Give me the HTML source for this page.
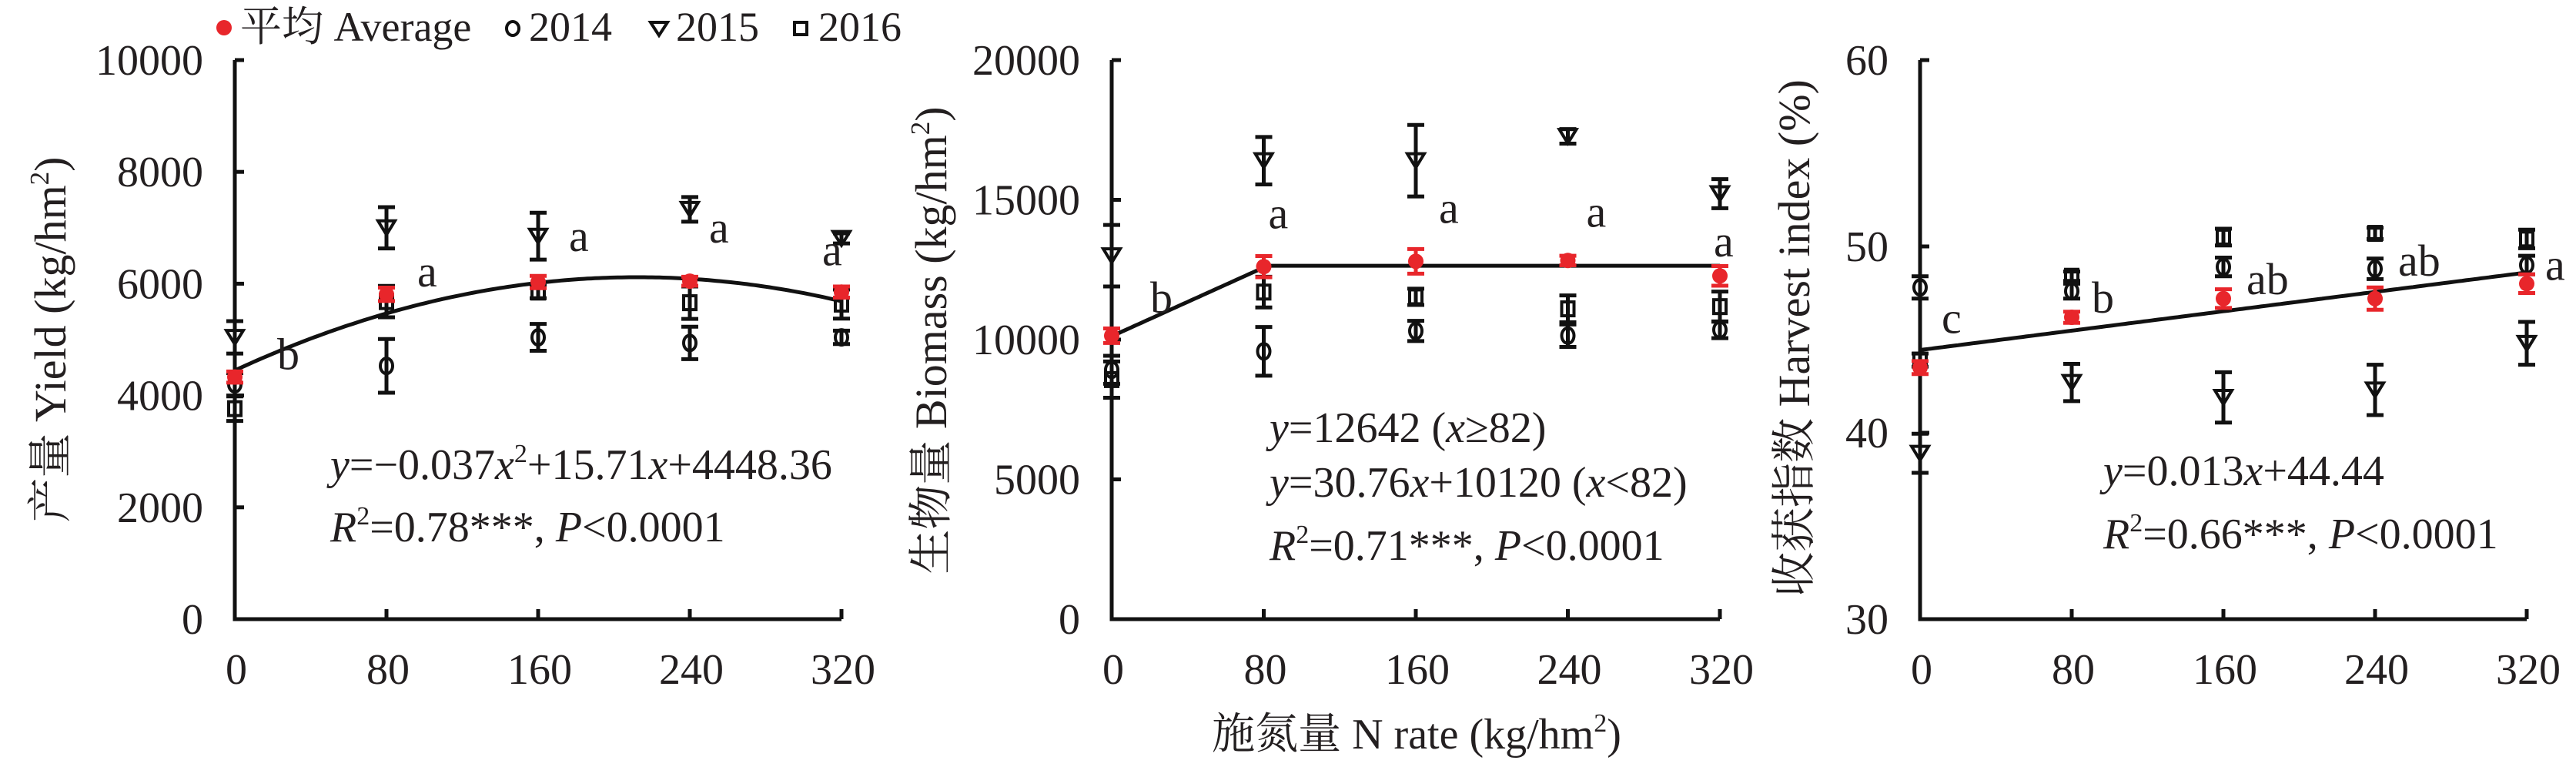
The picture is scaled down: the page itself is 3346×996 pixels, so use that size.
<!DOCTYPE html>
<html><head><meta charset="utf-8"><style>
html,body{margin:0;padding:0;background:#fff;}
svg text{font-family:"Liberation Serif","Noto Serif CJK SC",serif;fill:#231f20;}
</style></head><body>
<svg id="fig" xmlns="http://www.w3.org/2000/svg" width="3346" height="991" viewBox="0 0 3346 991">
<g id="legend">
 <g><circle cx="291" cy="36" r="10" fill="#e8262b"/><text x="312" y="53" font-size="54">平均 Average</text></g>
 <g><ellipse cx="666" cy="37" rx="8" ry="9" fill="none" stroke="#111" stroke-width="4"/><text x="687" y="53" font-size="54">2014</text></g>
 <g><path d="M845,29 L867,29 L856,46 Z" fill="none" stroke="#111" stroke-width="4"/><text x="878" y="53" font-size="54">2015</text></g>
 <g><rect x="1032" y="29" width="16" height="16" fill="none" stroke="#111" stroke-width="4"/><text x="1063" y="53" font-size="54">2016</text></g>
</g>
<text x="1840" y="972" font-size="56" text-anchor="middle">施氮量 N rate (kg/hm<tspan font-size="34" dy="-22">2</tspan><tspan dy="22">)</tspan></text>
</svg>
<script>
const xCats = [0, 80, 160, 240, 320];
// Yield
const yieldAvg = [4330, 5810, 6030, 6045, 5850];
const yieldAvgErr = [100, 120, 110, 80, 100];
const yield2014 = [4200, 4530, 5040, 4940, 5040];
const yield2014Err = [200, 480, 240, 290, 120];
const yield2015 = [5040, 7000, 6850, 7330, 6810];
const yield2015Err = [290, 370, 420, 220, 90];
const yield2016 = [3765, 5680, 5850, 5660, 5635];
const yield2016Err = [220, 280, 110, 290, 260];
const yieldTicks = [0, 2000, 4000, 6000, 8000, 10000];
const yieldLetters = ["b", "a", "a", "a", "a"];
// Biomass
const bioAvg = [10140, 12610, 12800, 12830, 12280];
const bioAvgErr = [260, 380, 440, 170, 350];
const bio2014 = [8920, 9580, 10310, 10140, 10350];
const bio2014Err = [500, 870, 360, 400, 300];
const bio2015 = [13000, 16400, 16400, 17270, 15220];
const bio2015Err = [1100, 850, 1280, 260, 520];
const bio2016 = [8570, 11700, 11530, 11100, 11180];
const bio2016Err = [650, 550, 290, 480, 540];
const bioTicks = [0, 5000, 10000, 15000, 20000];
const bioLetters = ["b", "a", "a", "a", "a"];
// Harvest index
const hiAvg = [43.5, 46.2, 47.2, 47.2, 48.0];
const hiAvgErr = [0.35, 0.3, 0.5, 0.6, 0.5];
const hi2014 = [47.8, 47.6, 48.9, 48.8, 49.0];
const hi2014Err = [0.6, 0.4, 0.5, 0.55, 0.5];
const hi2015 = [38.9, 42.7, 41.9, 42.3, 44.8];
const hi2015Err = [1.05, 1.0, 1.35, 1.35, 1.15];
const hi2016 = [43.9, 48.4, 50.5, 50.7, 50.4];
const hi2016Err = [0.35, 0.25, 0.45, 0.3, 0.5];
const hiTicks = [30, 40, 50, 60];
const hiLetters = ["c", "b", "ab", "ab", "a"];

const NS = "http://www.w3.org/2000/svg";
const svg = document.getElementById('fig');
function mk(tag, attrs, parent) {
  const e = document.createElementNS(NS, tag);
  for (const k in attrs) e.setAttribute(k, attrs[k]);
  (parent || svg).appendChild(e);
  return e;
}
const panels = [
  {name:'yield', x0:305, x1:1093, yTop:78, yBot:804, ymin:0, ymax:10000, ticks:yieldTicks, labelRight:264,
   avg:yieldAvg, avgE:yieldAvgErr, s14:yield2014, e14:yield2014Err, s15:yield2015, e15:yield2015Err, s16:yield2016, e16:yield2016Err,
   letters:yieldLetters, letterOff:[[55,-10],[40,-10],[40,-40],[25,-50],[-25,-35]],
   fit:x=>-0.037*x*x+15.71*x+4448.36,
   title:'产量 Yield (kg/hm', titleX:65, titleY:441,
   eq:[['<tspan font-style="italic">y</tspan>=−0.037<tspan font-style="italic">x</tspan><tspan font-size="34" dy="-22">2</tspan><tspan dy="22">+15.71</tspan><tspan font-style="italic">x</tspan>+4448.36',429,622],
       ['<tspan font-style="italic">R</tspan><tspan font-size="34" dy="-22">2</tspan><tspan dy="22">=0.78***, </tspan><tspan font-style="italic">P</tspan>&lt;0.0001',429,703]]},
  {name:'biomass', x0:1444, x1:2234, yTop:78, yBot:804, ymin:0, ymax:20000, ticks:bioTicks, labelRight:1403,
   avg:bioAvg, avgE:bioAvgErr, s14:bio2014, e14:bio2014Err, s15:bio2015, e15:bio2015Err, s16:bio2016, e16:bio2016Err,
   letters:bioLetters, letterOff:[[50,-30],[6,-50],[30,-50],[24,-44],[-8,-25]],
   fit:x=>x<82?30.76*x+10120:12642,
   title:'生物量 Biomass (kg/hm', titleX:1209, titleY:442,
   eq:[['<tspan font-style="italic">y</tspan>=12642 (<tspan font-style="italic">x</tspan>≥82)',1649,574],
       ['<tspan font-style="italic">y</tspan>=30.76<tspan font-style="italic">x</tspan>+10120 (<tspan font-style="italic">x</tspan>&lt;82)',1649,645],
       ['<tspan font-style="italic">R</tspan><tspan font-size="34" dy="-22">2</tspan><tspan dy="22">=0.71***, </tspan><tspan font-style="italic">P</tspan>&lt;0.0001',1649,727]]},
  {name:'harvest-index', x0:2494, x1:3282, yTop:78, yBot:804, ymin:30, ymax:60, ticks:hiTicks, labelRight:2453,
   avg:hiAvg, avgE:hiAvgErr, s14:hi2014, e14:hi2014Err, s15:hi2015, e15:hi2015Err, s16:hi2016, e16:hi2016Err,
   letters:hiLetters, letterOff:[[28,-45],[26,-6],[30,-6],[30,-30],[24,-5]],
   fit:x=>0.013*x+44.44,
   title:'收获指数 Harvest index (%)', titleX:2330, titleY:439, noSup:true,
   eq:[['<tspan font-style="italic">y</tspan>=0.013<tspan font-style="italic">x</tspan>+44.44',2732,630],
       ['<tspan font-style="italic">R</tspan><tspan font-size="34" dy="-22">2</tspan><tspan dy="22">=0.66***, </tspan><tspan font-style="italic">P</tspan>&lt;0.0001',2732,712]]}
];
panels.forEach(p => {
  const g = mk('g', {});
  
  
  const sx = v => p.x0 + (v - 0) / 320 * (p.x1 - p.x0);
  const sy = v => p.yBot - (v - p.ymin) / (p.ymax - p.ymin) * (p.yBot - p.yTop);
  // axes
  const ax = mk('path', {d:`M${p.x0},${p.yTop} L${p.x0},${p.yBot} L${p.x1},${p.yBot}`, fill:'none', stroke:'#111', 'stroke-width':5}, g);
  
  
  p.ticks.forEach(t => {
    const y = sy(t);
    mk('line', {x1:p.x0, x2:p.x0+12, y1:y, y2:y, stroke:'#111', 'stroke-width':5}, g);
    const tl = mk('text', {x:p.labelRight, y:y+19, 'font-size':56, 'text-anchor':'end'}, g);
    
    
    tl.textContent = t;
  });
  xCats.forEach(c => {
    const x = sx(c);
    mk('line', {x1:x, x2:x, y1:p.yBot, y2:p.yBot-13, stroke:'#111', 'stroke-width':5}, g);
    const tl = mk('text', {x:x+2, y:888, 'font-size':56, 'text-anchor':'middle'}, g);
    
    
    tl.textContent = c;
  });
  // y title
  const tt = mk('text', {x:0, y:0, 'font-size':58, 'text-anchor':'middle', transform:`translate(${p.titleX+20},${p.titleY}) rotate(-90)`}, g);
  
  
  tt.innerHTML = p.noSup ? p.title : p.title + '<tspan font-size="35" dy="-22">2</tspan><tspan dy="22">)</tspan>';
  // fit line
  let d = '';
  for (let x = 0; x <= 320; x += 2) d += (x ? 'L' : 'M') + sx(x).toFixed(1) + ',' + sy(p.fit(x)).toFixed(1);
  const fl = mk('path', {d, fill:'none', stroke:'#111', 'stroke-width':5}, g);
  
  
  function err(x, v, e, col) {
    const a = sy(v - e), b = sy(v + e);
    mk('path', {d:`M${x},${a} L${x},${b} M${x-11},${a} L${x+11},${a} M${x-11},${b} L${x+11},${b}`, stroke:col, 'stroke-width':5, fill:'none'}, g);
  }
  const series = [['2014', p.s14, p.e14], ['2015', p.s15, p.e15], ['2016', p.s16, p.e16]];
  series.forEach(([nm, vals, errs]) => {
    vals.forEach((v, i) => {
      const x = sx(xCats[i]), y = sy(v);
      err(x, v, errs[i], '#111');
      let m;
      if (nm === '2014') m = mk('ellipse', {cx:x, cy:y, rx:8, ry:10, fill:'none', stroke:'#111', 'stroke-width':4}, g);
      else if (nm === '2015') m = mk('path', {d:`M${x-11},${y-9} L${x+11},${y-9} L${x},${y+9} Z`, fill:'none', stroke:'#111', 'stroke-width':4}, g);
      else m = mk('rect', {x:x-8, y:y-9, width:16, height:18, fill:'none', stroke:'#111', 'stroke-width':4}, g);
      
      
    });
  });
  p.avg.forEach((v, i) => {
    const x = sx(xCats[i]), y = sy(v);
    err(x, v, p.avgE[i], '#e8262b');
    const c = mk('circle', {cx:x, cy:y, r:10, fill:'#e8262b'}, g);
    
    
    const lt = mk('text', {x:x+p.letterOff[i][0], y:y+p.letterOff[i][1], 'font-size':58}, g);
    
    
    lt.textContent = p.letters[i];
  });
  p.eq.forEach(([h, x, y]) => {
    const t = mk('text', {x, y, 'font-size':56}, g);
    
    
    t.innerHTML = h;
  });
});
</script>
</body></html>
